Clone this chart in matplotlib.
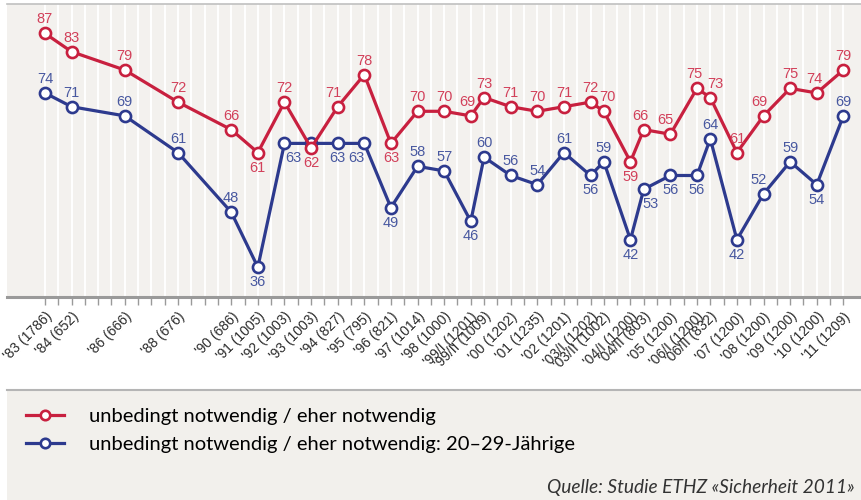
import matplotlib
matplotlib.use("Agg")
import matplotlib.pyplot as plt
from matplotlib.patches import Rectangle
from matplotlib.lines import Line2D

# survey labels (year + sample size) and their slot on the half-year axis
labels = ["'83 (1786)", "'84 (652)", "'86 (666)", "'88 (676)", "'90 (686)",
          "'91 (1005)", "'92 (1003)", "'93 (1003)", "'94 (827)", "'95 (795)",
          "'96 (821)", "'97 (1014)", "'98 (1000)", "'99/I (1201)", "'99/II (1009)",
          "'00 (1202)", "'01 (1235)", "'02 (1201)", "'03/I (1202)", "'03/II (1002)",
          "'04/I (1200)", "'04/II (803)", "'05 (1200)", "'06/I (1200)", "'06/II (832)",
          "'07 (1200)", "'08 (1200)", "'09 (1200)", "'10 (1200)", "'11 (1209)"]
slots = [0, 2, 6, 10, 14, 16, 18, 20, 22, 24, 26, 28, 30, 32, 33,
         35, 37, 39, 41, 42, 44, 45, 47, 49, 50, 52, 54, 56, 58, 60]

all_ages = [87, 83, 79, 72, 66, 61, 72, 62, 71, 78, 63, 70, 70, 69, 73,
            71, 70, 71, 72, 70, 59, 66, 65, 75, 73, 61, 69, 75, 74, 79]
age_20_29 = [74, 71, 69, 61, 48, 36, 63, 63, 63, 63, 49, 58, 57, 46, 60,
             56, 54, 61, 56, 59, 42, 53, 56, 56, 64, 42, 52, 59, 54, 69]

series_names = ["unbedingt notwendig / eher notwendig",
                "unbedingt notwendig / eher notwendig: 20\u201329-Jährige"]

# label placement: 'a' above, 'b' below, '' none; dx in pixels
red_pos = list("aaaaababaabaaaaaaaaabaaaaaaaaa")
red_dx = [0, 0, 0, 0, 0, 0, 0, 0, -4, 0, 0, 0, 0, -3, 0,
          0, 0, 0, 0, 4, 0, -3, -5, -3, 5, 0, -4, 0, -2, 0]
blue_pos = ["a", "a", "a", "a", "a", "b", "b", "", "b", "b", "b", "a", "a", "b", "a",
            "a", "a", "a", "b", "a", "b", "b", "b", "b", "a", "b", "a", "a", "b", "a"]
blue_dx = [0, 0, 0, 0, 0, 0, 9, 0, 0, -8, 0, 0, 0, 0, 0,
           0, 0, 0, 0, 0, 0, 7, 0, 0, 0, 0, -5, 0, 0, 0]

RED = "#c8203f"
BLUE = "#2d3a8e"
RED_TXT = "#d2405a"
BLUE_TXT = "#4858a0"
BG = "#f3f1ee"

fig = plt.figure(figsize=(8.62, 5.0), dpi=100, facecolor="white")
ax = fig.add_axes([7 / 862, 1 - 297 / 500, 1 - 7 / 862, (297 - 4) / 500])
ax.set_facecolor(BG)

# legend / source panel
fig.patches.append(Rectangle((7 / 862, 0), 1, (500 - 390) / 500, transform=fig.transFigure,
                             facecolor="#f2f0ec", edgecolor="none", zorder=0))
fig.lines.append(Line2D([7 / 862, 1], [1 - 390 / 500] * 2, transform=fig.transFigure,
                        color="#b5b5b5", lw=1.5))

line_kw = dict(lw=2.3, marker="o", markersize=8, markerfacecolor="white",
               markeredgewidth=1.9, zorder=3)
l1, = ax.plot(slots, all_ages, color=RED, markeredgecolor=RED, label=series_names[0], **line_kw)
l2, = ax.plot(slots, age_20_29, color=BLUE, markeredgecolor=BLUE, label=series_names[1], **line_kw)
l1.set_zorder(4)

def put_labels(vals, pos, dx, col):
    for x, v, p, d in zip(slots, vals, pos, dx):
        if not p:
            continue
        off = 7 if p == "a" else -8
        ax.annotate(str(v), (x, v), xytext=(d, off), textcoords="offset pixels",
                    ha="center", va="bottom" if p == "a" else "top",
                    fontsize=10.5, color=col, family="Liberation Sans", zorder=5)

put_labels(all_ages, red_pos, red_dx, RED_TXT)
put_labels(age_20_29, blue_pos, blue_dx, BLUE_TXT)

ax.set_xlim(-2.85, 61.4)
ax.set_ylim(29.5, 93.4)
ax.set_yticks([])
ax.set_xticks(slots)
ax.set_xticklabels(labels, rotation=45, ha="right", va="top", rotation_mode="anchor",
                   fontsize=10, color="#2a2a2a", family="Liberation Sans")
ax.set_xticks(range(0, 61), minor=True)
ax.tick_params(axis="x", which="both", length=6, width=1, color="#9a9a9a", pad=3)
ax.grid(True, axis="x", which="both", color="white", lw=1.4)
ax.set_axisbelow(True)

for s in ["left", "right"]:
    ax.spines[s].set_visible(False)
ax.spines["bottom"].set_color("#9a9a9a")
ax.spines["bottom"].set_linewidth(2.2)
ax.spines["top"].set_color("#c0c0c0")
ax.spines["top"].set_linewidth(1.2)

fig.legend(handles=[l1, l2], loc="upper left", bbox_to_anchor=(8 / 862, 1 - 390 / 500),
           frameon=False, handlelength=1.9, handletextpad=1.2, labelspacing=0.55,
           prop=dict(family="Lato", size=14.5), markerscale=0.85)

fig.text(855 / 862, 1 - 487 / 500, "Quelle: Studie ETHZ \u00abSicherheit 2011\u00bb",
         ha="right", va="center", style="italic", fontsize=13.8, color="#333333",
         family="Lato")

fig.savefig("out.png", dpi=100)
